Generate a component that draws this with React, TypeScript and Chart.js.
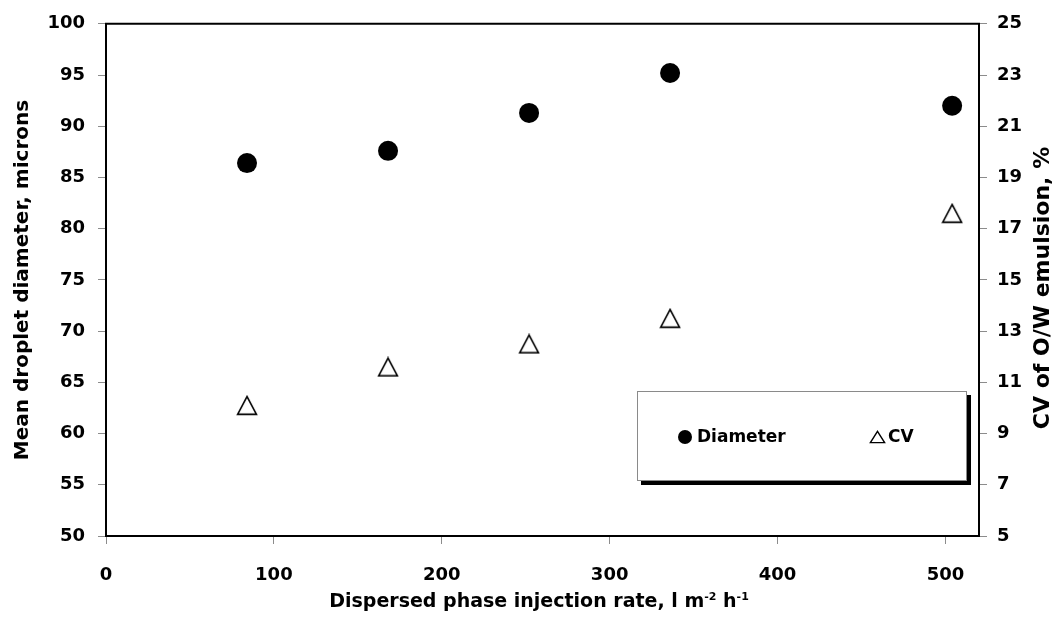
import React, { useEffect, useRef } from 'react';
import { Chart, registerables } from 'chart.js';

Chart.register(...registerables);

// ---- data ----
const RATES = [84, 168, 252, 336, 504];
const DIAMETER = [86.4, 87.6, 91.3, 95.2, 92.0];
const CV = [10.1, 11.6, 12.5, 13.5, 17.6];
const X_TICKS = [0, 100, 200, 300, 400, 500];
const Y_LEFT_TICKS = [50, 55, 60, 65, 70, 75, 80, 85, 90, 95, 100];
const Y_RIGHT_TICKS = [5, 7, 9, 11, 13, 15, 17, 19, 21, 23, 25];

const X_TITLE = 'Dispersed phase injection rate, l m';
const Y_LEFT_TITLE = 'Mean droplet diameter, microns';
const Y_RIGHT_TITLE = 'CV of O/W emulsion, %';
const LEGEND_LABELS = ['Diameter', 'CV'];

const FONT_FAMILY = '"DejaVu Sans", "Liberation Sans", Arial, sans-serif';

function makeTriangle(w: number, h: number, lw: number) {
  const c = document.createElement('canvas');
  c.width = w;
  c.height = h;
  const g = c.getContext('2d')!;
  g.lineWidth = lw;
  g.strokeStyle = '#000';
  g.fillStyle = '#fff';
  g.lineJoin = 'miter';
  g.beginPath();
  g.moveTo(w / 2, lw);
  g.lineTo(w - lw, h - lw);
  g.lineTo(lw, h - lw);
  g.closePath();
  g.fill();
  g.stroke();
  return c;
}

export default function App() {
  const ref = useRef<HTMLCanvasElement | null>(null);

  useEffect(() => {
    document.body.style.margin = '0';
    const canvas = ref.current!;
    const tri = makeTriangle(22, 21, 1.6);
    const legendTri = makeTriangle(17, 14, 1.4);

    const overlay = {
      id: 'overlay',
      afterDraw(chart: any) {
        const ctx = chart.ctx as CanvasRenderingContext2D;
        const a = chart.chartArea;
        ctx.save();
        // top frame line
        ctx.strokeStyle = '#000';
        ctx.lineWidth = 2;
        ctx.beginPath();
        ctx.moveTo(a.left - 1, a.top);
        ctx.lineTo(a.right + 1, a.top);
        ctx.stroke();

        ctx.fillStyle = '#000';
        const f = `bold 19px ${FONT_FAMILY}`;
        const fs = `bold 11px ${FONT_FAMILY}`;

        // x title with superscripts
        ctx.font = f;
        const w1 = ctx.measureText(X_TITLE).width;
        ctx.font = fs;
        const ws1 = ctx.measureText('-2').width;
        ctx.font = f;
        const wh = ctx.measureText(' h').width;
        ctx.font = fs;
        const ws2 = ctx.measureText('-1').width;
        const total = w1 + ws1 + wh + ws2;
        let x = 539 - total / 2;
        const base = 607;
        ctx.textBaseline = 'alphabetic';
        ctx.textAlign = 'left';
        ctx.font = f;
        ctx.fillText(X_TITLE, x, base);
        x += w1;
        ctx.font = fs;
        ctx.fillText('-2', x, base - 7);
        x += ws1;
        ctx.font = f;
        ctx.fillText(' h', x, base);
        x += wh;
        ctx.font = fs;
        ctx.fillText('-1', x, base - 7);

        // left title
        ctx.font = `bold 20px ${FONT_FAMILY}`;
        ctx.textAlign = 'center';
        ctx.textBaseline = 'middle';
        ctx.save();
        ctx.translate(23, 280);
        ctx.rotate(-Math.PI / 2);
        ctx.fillText(Y_LEFT_TITLE, 0, 0);
        ctx.restore();

        // right title
        ctx.font = `bold 22px ${FONT_FAMILY}`;
        ctx.save();
        ctx.translate(1043, 288);
        ctx.rotate(-Math.PI / 2);
        ctx.fillText(Y_RIGHT_TITLE, 0, 0);
        ctx.restore();

        // legend box
        const bx = 637, by = 391, bw = 330, bh = 90;
        ctx.fillStyle = '#000';
        ctx.fillRect(bx + 4, by + 4, bw, bh);
        ctx.fillStyle = '#fff';
        ctx.fillRect(bx, by, bw, bh);
        ctx.strokeStyle = '#8a8a8a';
        ctx.lineWidth = 1;
        ctx.strokeRect(bx + 0.5, by + 0.5, bw - 1, bh - 1);

        const ly = 437;
        ctx.fillStyle = '#000';
        ctx.beginPath();
        ctx.arc(685, ly, 7, 0, Math.PI * 2);
        ctx.fill();
        ctx.font = `bold 17px ${FONT_FAMILY}`;
        ctx.textAlign = 'left';
        ctx.textBaseline = 'middle';
        ctx.fillText(LEGEND_LABELS[0], 697, ly + 1);
        ctx.drawImage(legendTri, 869, ly - 7);
        ctx.fillText(LEGEND_LABELS[1], 888, ly + 1);
        ctx.restore();
      },
    };

    const tickFont = { family: FONT_FAMILY, size: 18, weight: 'bold' as const };
    const gridCommon = {
      drawOnChartArea: false,
      drawTicks: true,
      tickLength: 8,
      color: '#8c8c8c',
      lineWidth: 1,
    };
    const borderCommon = { display: true, color: '#000', width: 2 };

    const chart = new Chart(canvas, {
      type: 'scatter',
      data: {
        datasets: [
          {
            label: LEGEND_LABELS[0],
            data: RATES.map((r, i) => ({ x: r, y: DIAMETER[i] })),
            yAxisID: 'y',
            pointStyle: 'circle',
            pointRadius: 10,
            pointHoverRadius: 10,
            backgroundColor: '#000',
            borderColor: '#000',
            borderWidth: 0,
            showLine: false,
          },
          {
            label: LEGEND_LABELS[1],
            data: RATES.map((r, i) => ({ x: r, y: CV[i] })),
            yAxisID: 'y1',
            pointStyle: tri as any,
            pointRadius: 11,
            pointHoverRadius: 11,
            backgroundColor: '#fff',
            borderColor: '#000',
            showLine: false,
          },
        ],
      },
      options: {
        animation: false,
        responsive: false,
        maintainAspectRatio: false,
        events: [],
        layout: { padding: { top: 23, left: 0, right: 0, bottom: 0 } },
        plugins: {
          legend: { display: false },
          tooltip: { enabled: false },
          title: { display: false },
        },
        scales: {
          x: {
            type: 'linear',
            position: 'bottom',
            min: 0,
            max: 520,
            afterBuildTicks: (s: any) => {
              s.ticks = X_TICKS.map((v) => ({ value: v }));
            },
            afterFit: (s: any) => {
              s.height = 90;
            },
            ticks: { font: tickFont, color: '#000', padding: 21, maxRotation: 0 },
            grid: gridCommon,
            border: borderCommon,
          },
          y: {
            type: 'linear',
            position: 'left',
            min: 50,
            max: 100,
            afterBuildTicks: (s: any) => {
              s.ticks = Y_LEFT_TICKS.map((v) => ({ value: v }));
            },
            afterFit: (s: any) => {
              s.width = 106;
            },
            ticks: { font: tickFont, color: '#000', padding: 13 },
            grid: gridCommon,
            border: borderCommon,
          },
          y1: {
            type: 'linear',
            position: 'right',
            min: 5,
            max: 25,
            afterBuildTicks: (s: any) => {
              s.ticks = Y_RIGHT_TICKS.map((v) => ({ value: v }));
            },
            afterFit: (s: any) => {
              s.width = 83;
            },
            ticks: { font: tickFont, color: '#000', padding: 10 },
            grid: gridCommon,
            border: borderCommon,
          },
        },
      },
      plugins: [overlay],
    });

    return () => chart.destroy();
  }, []);

  return (
    <div style={{ width: 1062, height: 626, background: '#fff' }}>
      <canvas ref={ref} width={1062} height={626} style={{ display: 'block' }} />
    </div>
  );
}
